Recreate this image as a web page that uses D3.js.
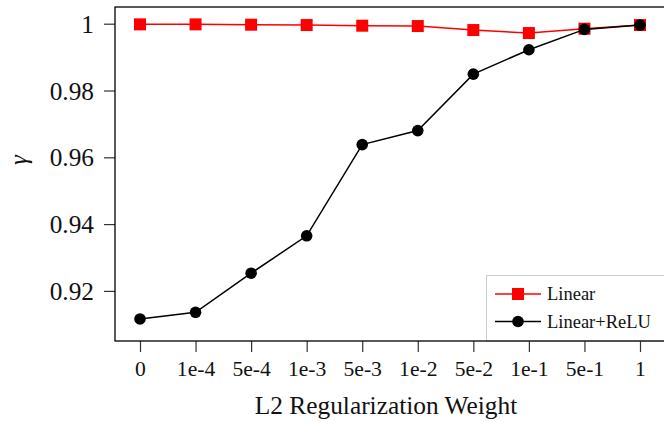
<!DOCTYPE html>
<html>
<head>
<meta charset="utf-8">
<script src="https://cdn.jsdelivr.net/npm/d3@7"></script>
</head>
<body style="margin:0;background:#fff">
<svg id="chart" width="664" height="422" style="display:block"></svg>
<script>
const categories = ["0", "1e-4", "5e-4", "1e-3", "5e-3", "1e-2", "5e-2", "1e-1", "5e-1", "1"];
const linearValues = [0.9998, 0.9998, 0.9997, 0.9996, 0.9994, 0.9993, 0.9981, 0.9972, 0.9985, 0.9996];
const reluValues = [0.9116, 0.9136, 0.9253, 0.9365, 0.9638, 0.9680, 0.9849, 0.9922, 0.9983, 0.9996];
const yTicks = [0.92, 0.94, 0.96, 0.98, 1];
const yTickLabels = ["0.92", "0.94", "0.96", "0.98", "1"];
const seriesNames = ["Linear", "Linear+ReLU"];

const FONT = "'Liberation Serif', 'Times New Roman', Tinos, 'DejaVu Serif', serif";
const svg = d3.select("#chart");
const frame = { left: 115, top: 7, right: 667, bottom: 341 };

const x = d3.scalePoint().domain(categories).range([140, 640]);
const y = d3.scaleLinear().domain([0.905, 1.005]).range([frame.bottom, frame.top]);

// Axes (ticks outside)
const yAxis = d3.axisLeft(y).tickValues(yTicks)
  .tickFormat((d, i) => yTickLabels[i]).tickSize(11).tickPadding(10);
const gy = svg.append("g").attr("transform", `translate(${frame.left},0)`).call(yAxis);
gy.attr("font-family", null).attr("font-size", null);
gy.select(".domain").remove();
gy.selectAll(".tick line").attr("stroke", "#333").attr("stroke-width", 1.2);
gy.selectAll(".tick text").style("font-family", FONT).style("font-size", "25.3px")
  .attr("fill", "#111").attr("dy", "0.34em");

const xAxis = d3.axisBottom(x).tickSize(11).tickPadding(8);
const gx = svg.append("g").attr("transform", `translate(0,${frame.bottom})`).call(xAxis);
gx.attr("font-family", null).attr("font-size", null);
gx.select(".domain").remove();
gx.selectAll(".tick line").attr("stroke", "#333").attr("stroke-width", 1.2);
gx.selectAll(".tick text").style("font-family", FONT).style("font-size", "21.6px")
  .attr("fill", "#111").attr("dy", "0.75em");

// Lines
const line = (vals) => d3.line().x((d, i) => x(categories[i])).y(d => y(d))(vals);

svg.append("path").attr("d", line(linearValues))
  .attr("fill", "none").attr("stroke", "#ff0000").attr("stroke-width", 1.5);
svg.append("g").selectAll("rect").data(linearValues).join("rect")
  .attr("x", (d, i) => x(categories[i]) - 6)
  .attr("y", d => y(d) - 6)
  .attr("width", 12).attr("height", 12).attr("fill", "#ff0000");

svg.append("path").attr("d", line(reluValues))
  .attr("fill", "none").attr("stroke", "#000").attr("stroke-width", 1.5);
svg.append("g").selectAll("circle").data(reluValues).join("circle")
  .attr("cx", (d, i) => x(categories[i]))
  .attr("cy", d => y(d))
  .attr("r", 5.8).attr("fill", "#000");

// Legend
const lg = svg.append("g");
lg.append("rect").attr("x", 486.5).attr("y", 275.5).attr("width", 200).attr("height", frame.bottom - 275.5)
  .attr("fill", "#fff").attr("stroke", "#cccccc").attr("stroke-width", 1);
const legendRows = [294, 321.5];
seriesNames.forEach((name, i) => {
  const yy = legendRows[i];
  const col = i === 0 ? "#ff0000" : "#000";
  lg.append("line").attr("x1", 495).attr("x2", 541).attr("y1", yy).attr("y2", yy)
    .attr("stroke", col).attr("stroke-width", 1.5);
  if (i === 0) {
    lg.append("rect").attr("x", 518 - 6).attr("y", yy - 6).attr("width", 12).attr("height", 12).attr("fill", col);
  } else {
    lg.append("circle").attr("cx", 518).attr("cy", yy).attr("r", 5.8).attr("fill", col);
  }
  lg.append("text").attr("x", 547).attr("y", yy).attr("dy", "0.33em")
    .style("font-family", FONT).style("font-size", "18.5px").attr("fill", "#111").text(name);
});

// Frame
svg.append("rect").attr("x", frame.left).attr("y", frame.top)
  .attr("width", frame.right - frame.left).attr("height", frame.bottom - frame.top)
  .attr("fill", "none").attr("stroke", "#000").attr("stroke-width", 1.3);

// Axis titles
svg.append("text").attr("x", 386).attr("y", 414).attr("text-anchor", "middle")
  .style("font-family", FONT).style("font-size", "25.4px").attr("fill", "#111").text("L2 Regularization Weight");
svg.append("text").attr("transform", "translate(27,160) rotate(-90)")
  .attr("text-anchor", "middle").style("font-family", FONT).style("font-size", "25px")
  .style("font-style", "italic").attr("fill", "#111").text("γ");
</script>
</body>
</html>
